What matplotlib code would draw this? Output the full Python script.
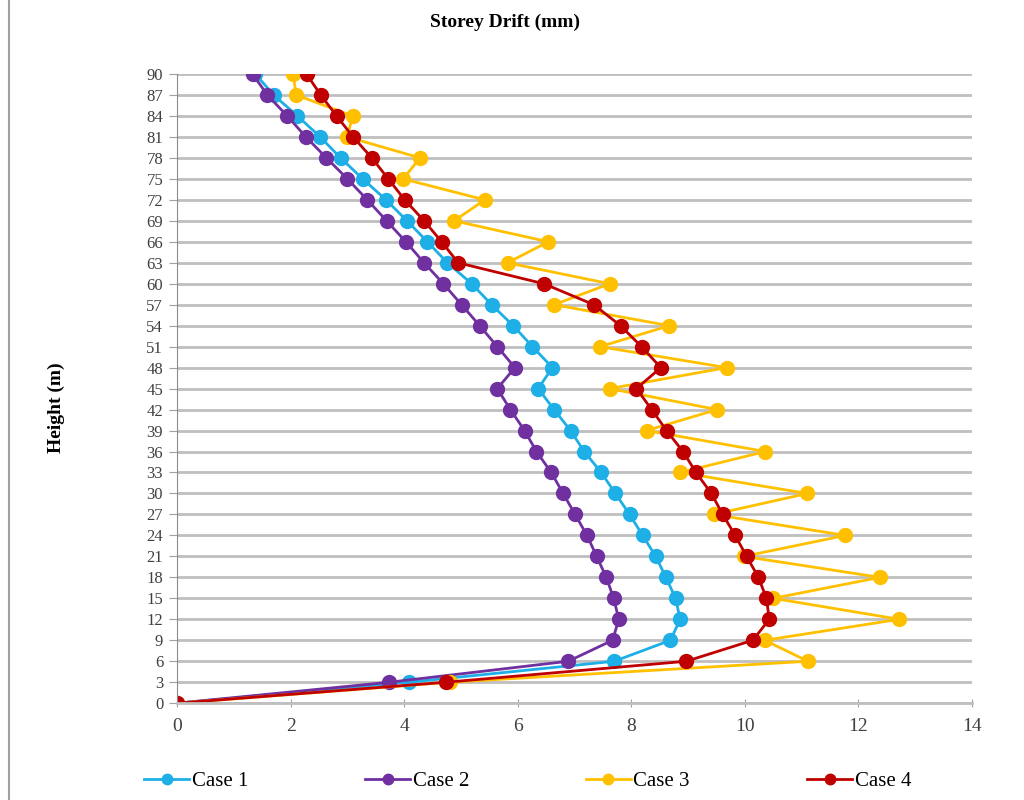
import matplotlib
matplotlib.use("Agg")
import matplotlib.pyplot as plt
from matplotlib.lines import Line2D

heights = list(range(0, 91, 3))
case1 = [0, 4.08, 7.70, 8.69, 8.86, 8.78, 8.61, 8.43, 8.20, 7.97, 7.72, 7.47, 7.17, 6.93, 6.64, 6.36,
         6.61, 6.26, 5.92, 5.54, 5.19, 4.76, 4.41, 4.05, 3.68, 3.27, 2.88, 2.52, 2.12, 1.70, 1.38]
case2 = [0, 3.74, 6.89, 7.67, 7.78, 7.69, 7.56, 7.39, 7.22, 7.01, 6.80, 6.59, 6.33, 6.12, 5.87, 5.64,
         5.95, 5.64, 5.33, 5.01, 4.69, 4.35, 4.03, 3.69, 3.35, 3.00, 2.63, 2.27, 1.94, 1.59, 1.33]
case3 = [0, 4.80, 11.11, 10.35, 12.72, 10.50, 12.38, 9.98, 11.77, 9.45, 11.10, 8.86, 10.36, 8.27, 9.51, 7.62,
         9.68, 7.45, 8.67, 6.64, 7.62, 5.82, 6.54, 4.88, 5.42, 3.98, 4.28, 3.00, 3.09, 2.10, 2.04]
case4 = [0, 4.74, 8.97, 10.14, 10.43, 10.38, 10.24, 10.03, 9.83, 9.61, 9.41, 9.14, 8.91, 8.62, 8.36, 8.09,
         8.52, 8.18, 7.81, 7.34, 6.46, 4.95, 4.66, 4.35, 4.01, 3.72, 3.43, 3.10, 2.81, 2.53, 2.28]
labels = ["Case 1", "Case 2", "Case 3", "Case 4"]
colors = ["#1DAFE6", "#7030A0", "#FFC000", "#C00000"]

serif = ["Liberation Serif", "DejaVu Serif"]
plt.rcParams["font.family"] = serif

fig = plt.figure(figsize=(10.24, 8), dpi=100)
ax = fig.add_axes([0.1729, 0.121, 0.7763, 0.7865])

for vals, lab, col in zip([case1, case2, case3, case4], labels, colors):
    ax.plot(vals, heights, color=col, lw=2.0, marker="o", markersize=10, label=lab)

ax.set_xlim(0, 14)
ax.set_ylim(0, 90)
ax.set_xticks(range(0, 15, 2))
ax.set_yticks(heights)
ax.yaxis.grid(True, color="#BFBFBF", lw=2.0)
ax.set_axisbelow(True)
for s in ["top", "right"]:
    ax.spines[s].set_visible(False)
ax.spines["left"].set_color("#8C8C8C")
ax.spines["bottom"].set_color("#BFBFBF")
ax.spines["bottom"].set_linewidth(2.0)
ax.tick_params(axis="y", direction="out", length=6, color="#A0A0A0", labelsize=12, pad=4,
               labelcolor="#404040")
ax.tick_params(axis="x", direction="inout", length=6, color="#A0A0A0", labelsize=14, pad=8,
               labelcolor="#404040")

fig.text(0.493, 0.972, "Storey Drift (mm)", ha="center", va="center", fontsize=14,
         fontweight="bold", family=serif)
fig.text(0.055, 0.49, "Height (m)", ha="center", va="center", rotation=90, fontsize=14,
         fontweight="bold", family=serif)

fig.legend(loc="center", bbox_to_anchor=(0.515, 0.023), ncol=4, frameon=False, fontsize=15,
           columnspacing=5.6, handlelength=2.2, handletextpad=0.1, markerscale=0.75)

fig.add_artist(Line2D([0.009, 0.009], [0, 1], transform=fig.transFigure, color="#A0A0A0", lw=1.5))

fig.savefig("out.png", dpi=100)
